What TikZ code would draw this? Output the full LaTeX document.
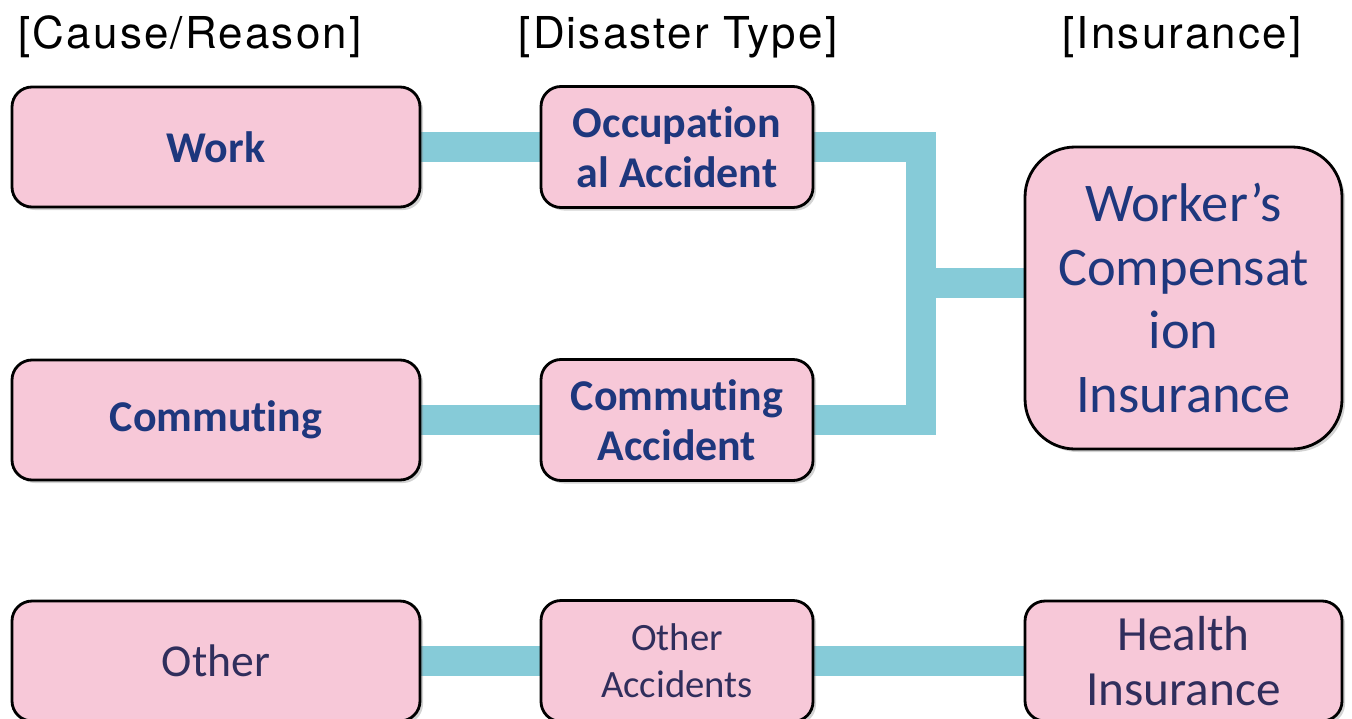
\documentclass[tikz,border=0pt]{standalone}
\usepackage{fontspec}
\setmainfont[Ligatures=NoCommon]{Carlito}
\newfontfamily\headfont[LetterSpace=5]{TeX Gyre Heros}
\usepackage{tikz}
\usetikzlibrary{shadows,backgrounds}
\definecolor{boxpink}{RGB}{247,200,216}
\definecolor{linkblue}{RGB}{134,203,216}
\definecolor{textblue}{RGB}{30,55,125}
\definecolor{textnavy}{RGB}{48,46,92}

\begin{document}
\begin{tikzpicture}[
    box/.style={draw=black,line width=0.8pt,fill=boxpink,rounded corners=0.2cm,align=center,inner sep=0pt,
        drop shadow={shadow xshift=0.03cm,shadow yshift=-0.03cm,opacity=0.35}},
    causebox/.style={box,minimum width=4.08cm,minimum height=1.2cm},
    typebox/.style={box,minimum width=2.72cm,minimum height=1.21cm},
    insbox/.style={box,minimum width=3.17cm,minimum height=1.2cm},
    boldtxt/.style={font=\fontsize{12.5}{14.2}\selectfont\bfseries,text=textblue},
    plaintxt/.style={text=textnavy},
    head/.style={font=\headfont\fontsize{12.5}{15}\selectfont},
    link/.style={draw=linkblue,line width=0.3cm}
]
        \useasboundingbox (0,0) rectangle (13.52,7.18);
        % column heads
        \node[head] (hcause) at (1.90,6.81) {[Cause/Reason]};
        \node[head] (htype) at (6.78,6.81) {[Disaster Type]};
        \node[head] (hins) at (11.82,6.81) {[Insurance]};
        % boxes
        \node[causebox,boldtxt] (work) at (2.16,5.71) {Work};
        \node[causebox,boldtxt] (comm) at (2.16,2.98) {Commuting};
        \node[causebox,plaintxt,font=\fontsize{13}{15}\selectfont] (other) at (2.16,0.57) {Other};
        \node[typebox,boldtxt] (occ) at (6.77,5.71) {Occupation\\al Accident};
        \node[typebox,boldtxt] (commacc) at (6.77,2.98) {Commuting\\Accident};
        \node[typebox,plaintxt,font=\fontsize{11}{13.4}\selectfont] (othacc) at (6.77,0.57) {Other\\Accidents};
        \node[box,rounded corners=0.5cm,minimum width=3.17cm,minimum height=3.02cm,text=textblue,
            font=\fontsize{15.5}{18.2}\selectfont] (wci) at (11.835,4.20) {Worker’s\\Compensat\\ion\\Insurance};
        \node[insbox,plaintxt,font=\fontsize{14}{15.7}\selectfont] (health) at (11.835,0.57) {Health\\Insurance};
        % connectors
        \begin{pgfonlayer}{background}
        \draw[link] (work) -- (occ);
        \draw[link] (comm) -- (commacc);
        \draw[link] (occ.east) -- ++(1.07,0) |- (commacc.east);
        \draw[link] ([yshift=0.15cm]wci.west) -- ++(-1.05,0);
        \draw[link] (other) -- (othacc);
        \draw[link] (othacc) -- (health);
        \end{pgfonlayer}
    \end{tikzpicture}
\end{document}
